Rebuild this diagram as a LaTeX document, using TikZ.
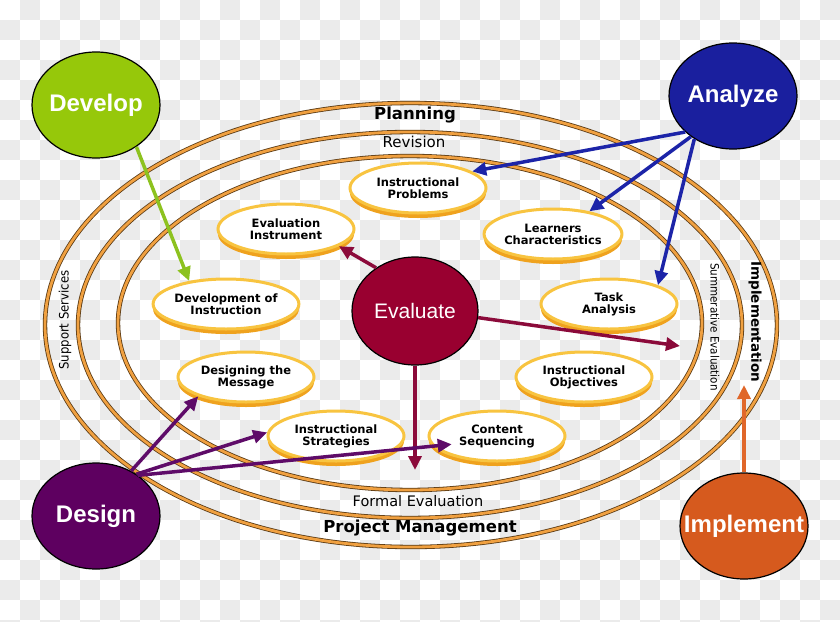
\documentclass[tikz,border=0pt]{standalone}
\usepackage{fontspec}
\setmainfont{DejaVu Sans}
\newfontfamily\arialfont{Liberation Sans}
\newfontfamily\condfont{DejaVu Sans Condensed}
\usetikzlibrary{arrows.meta,shapes.geometric,shadows}

\definecolor{checkgrey}{HTML}{EBEBEB}
\definecolor{ringorange}{HTML}{F0A040}
\definecolor{ringedge}{HTML}{5A3A14}
\definecolor{ovalrim}{HTML}{F8C440}
\definecolor{ovalshade}{HTML}{EFA21E}
\definecolor{developgreen}{HTML}{96C80A}
\definecolor{analyzeblue}{HTML}{1A1F9E}
\definecolor{designpurple}{HTML}{5E0060}
\definecolor{implementorange}{HTML}{D65A1E}
\definecolor{evaluatered}{HTML}{990030}
\definecolor{developline}{HTML}{8DC21F}
\definecolor{analyzeline}{HTML}{1C24A8}
\definecolor{evaluateline}{HTML}{8B0A3A}
\definecolor{designline}{HTML}{5E0B68}
\definecolor{implementline}{HTML}{E0672A}

\tikzset{
	ring/.style={draw=ringedge, line width=0.8pt, double=ringorange, double distance=2.8pt},
	taskoval/.style={ellipse, draw=ovalrim, line width=3pt, fill=white,
		minimum width=136pt, minimum height=50pt, inner sep=0pt, align=center,
		font=\bfseries\fontsize{11.5}{12}\selectfont,
		general shadow={fill=ovalshade, shadow yshift=-5pt}},
	phase/.style={ellipse, draw=black, line width=1.2pt, minimum width=128pt,
		minimum height=106pt, inner sep=0pt, text=white,
		font=\arialfont\bfseries\fontsize{24}{24}\selectfont},
	flow/.style={line width=3.5pt, -{Triangle[length=14pt,width=13pt]}}
}

\begin{document}
\begin{tikzpicture}[x=1pt, y=-1pt]
	\useasboundingbox (0,0) rectangle (840,621);

	% background
	\begin{scope}
		\clip (0,0) rectangle (840,621);
		\fill[white] (0,0) rectangle (840,621);
		\foreach \i in {0,...,41}
		{
			\foreach \j in {0,...,31}
			{
				\pgfmathtruncatemacro\chk{\i+\j}
				\ifodd\chk \fill[checkgrey] (20*\i,20*\j) rectangle ++(20,20); \fi
			};
		};
	\end{scope}

	% rings
	\draw[ring] (411,325) ellipse [x radius=366, y radius=222];
	\draw[ring] (410,325) ellipse [x radius=332, y radius=193];
	\draw[ring] (410,323) ellipse [x radius=292, y radius=167];

	\node[font=\bfseries\fontsize{16.5}{16.5}\selectfont] (planning) at (415,115) {Planning};
	\node[font=\fontsize{15}{15}\selectfont] (revision) at (414,142) {Revision};
	\node[font=\fontsize{14.5}{14.5}\selectfont] (formal) at (418,501) {Formal Evaluation};
	\node[font=\bfseries\fontsize{16.5}{16.5}\selectfont] (projman) at (420,528) {Project Management};
	\node[rotate=90, font=\condfont\fontsize{13}{13}\selectfont] (support) at (65,320) {Support Services};
	\node[rotate=-90, font=\condfont\fontsize{11.5}{11.5}\selectfont] (summative) at (715,327) {Summerative Evaluation};
	\node[rotate=-90, font=\bfseries\fontsize{13.5}{13.5}\selectfont] (implementation) at (755,322) {Implementation};

	% steps
	\node[taskoval] (probl) at (418,188) {Instructional\\Problems};
	\node[taskoval] (learn) at (553,234) {Learners\\Characteristics};
	\node[taskoval] (task) at (609,304) {Task\\Analysis};
	\node[taskoval] (object) at (584,377) {Instructional\\Objectives};
	\node[taskoval] (content) at (497,436) {Content\\Sequencing};
	\node[taskoval] (strat) at (336,436) {Instructional\\Strategies};
	\node[taskoval] (message) at (246,377) {Designing the\\Message};
	\node[taskoval] (devinst) at (226,304) {Development of\\Instruction};
	\node[taskoval] (evalinst) at (286,229) {Evaluation\\Instrument};

	% phases
	\node[phase, fill=developgreen] (develop) at (96,105) {\makebox[0pt]{Develop}};
	\node[phase, fill=analyzeblue] (analyze) at (733,96) {\makebox[0pt]{Analyze}};
	\node[phase, fill=designpurple] (design) at (96,516) {\makebox[0pt]{Design}};
	\node[phase, fill=implementorange] (implement) at (744,526) {\makebox[0pt]{Implement}};
	\node[phase, fill=evaluatered, minimum width=126pt, minimum height=108pt,
		font=\arialfont\fontsize{21}{21}\selectfont] (evaluate) at (415,311) {\makebox[0pt]{Evaluate}};

	\coordinate (sumend) at (680,346);
	\coordinate (formalend) at (415,470);
	\coordinate (implend) at (744,385);

	% arrows
	\path (develop.-46) edge[flow, developline] (devinst.148);
	\foreach \a / \j / \b in {217/probl/17, 224/learn/32, 228/task/21}
	{
		\path (analyze.\a) edge[flow, analyzeline] (\j.\b);
	};
	\path (evaluate.132) edge[flow, evaluateline] (evalinst.-18);
	\path (evaluate.-6) edge[flow, evaluateline] (sumend);
	\path (evaluate.south) edge[flow, evaluateline] (formalend);
	\foreach \a / \j / \b / \s in {52/message/202/0, 46/strat/177/0, 44/content/189/-19}
	{
		\path (design.\a) edge[flow, designline, shorten >=\s pt] (\j.\b);
	};
	\path (implement.north) edge[flow, implementline] (implend);
\end{tikzpicture}
\end{document}
